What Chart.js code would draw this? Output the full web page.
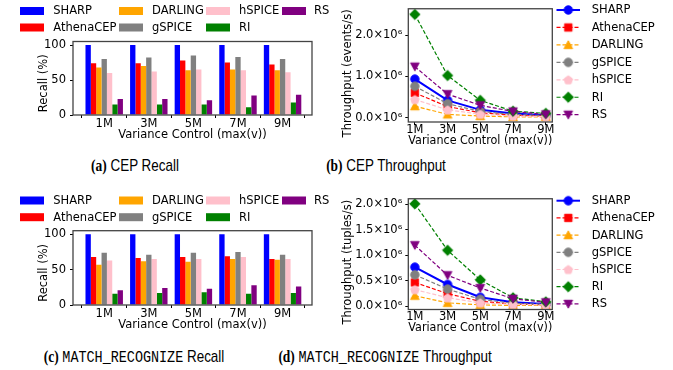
<!DOCTYPE html>
<html><head><meta charset="utf-8">
<script src="https://cdn.jsdelivr.net/npm/chart.js@4.4.0/dist/chart.umd.min.js"></script>
<style>
html,body{margin:0;padding:0;background:#fff;}
body{width:673px;height:370px;position:relative;overflow:hidden;}
canvas{position:absolute;}
.cap{position:absolute;white-space:nowrap;font-family:'Liberation Sans',sans-serif;font-size:17px;line-height:1;color:#000;transform:translate(-50%,-50%) scaleX(0.79);}
.cap b{font-family:'Liberation Serif',serif;font-weight:bold;}
.cap .mono{font-family:'Liberation Mono','DejaVu Sans Mono',monospace;font-size:17px;}
</style></head><body>
<canvas id="ca" width="336" height="148" style="left:0;top:0"></canvas>
<canvas id="cb" width="333" height="150" style="left:340px;top:0"></canvas>
<canvas id="cc" width="336" height="148" style="left:0;top:190px"></canvas>
<canvas id="cd" width="333" height="150" style="left:340px;top:190px"></canvas>
<div class="cap" style="left:134.5px;top:165px"><b>(a)</b> CEP Recall</div>
<div class="cap" style="left:385.5px;top:165px"><b>(b)</b> CEP Throughput</div>
<div class="cap" style="left:134px;top:357px"><b>(c)</b> <span class="mono">MATCH_RECOGNIZE</span> Recall</div>
<div class="cap" style="left:385px;top:357px"><b>(d)</b> <span class="mono">MATCH_RECOGNIZE</span> Throughput</div>
<script>
// ---------------- DATA ----------------
const series = ['SHARP','AthenaCEP','DARLING','gSPICE','hSPICE','RI','RS'];
const categories = ['1M','3M','5M','7M','9M'];
const xValues = [1,3,5,7,9];
const recallTicks = [0,50,100];
const throughputTicksCEP = [0,1000000,2000000];
const throughputTicksMR = [0,500000,1000000,1500000,2000000];

// (a) CEP recall (%)
const cepRecallSHARP     = [100,100,100,100,100];
const cepRecallAthenaCEP = [74,74,78,75,72];
const cepRecallDARLING   = [68,70,64,65,64];
const cepRecallGSPICE    = [80,82,85,83,80];
const cepRecallHSPICE    = [60,62,65,64,61];
const cepRecallRI        = [15,15,15,11,18];
const cepRecallRS        = [23,23,21,28,29];

// (c) MATCH_RECOGNIZE recall (%)
const mrRecallSHARP     = [100,100,100,100,100];
const mrRecallAthenaCEP = [68,66.5,68,69,65];
const mrRecallDARLING   = [57,62,61,65,64];
const mrRecallGSPICE    = [74,71,74,75,71];
const mrRecallHSPICE    = [63,65,65,68,65];
const mrRecallRI        = [16,17,18,16,17];
const mrRecallRS        = [21,24,23,28,26];

// (b) CEP throughput (events/s)
const cepTputSHARP     = [935000,420000,190000,100000,60000];
const cepTputAthenaCEP = [600000,270000,120000,60000,40000];
const cepTputDARLING   = [280000,80000,40000,20000,20000];
const cepTputGSPICE    = [760000,340000,150000,80000,50000];
const cepTputHSPICE    = [440000,190000,85000,40000,25000];
const cepTputRI        = [2500000,1020000,420000,157000,105000];
const cepTputRS        = [1235000,570000,300000,150000,80000];

// (d) MATCH_RECOGNIZE throughput (tuples/s)
const mrTputSHARP     = [770000,430000,180000,80000,50000];
const mrTputAthenaCEP = [470000,250000,100000,50000,30000];
const mrTputDARLING   = [210000,70000,30000,20000,20000];
const mrTputGSPICE    = [620000,340000,140000,60000,40000];
const mrTputHSPICE    = [330000,170000,70000,40000,30000];
const mrTputRI        = [2010000,1100000,520000,170000,90000];
const mrTputRS        = [1200000,610000,360000,150000,80000];

// ---------------- STYLES ----------------
const colors = ['#0000ff','#ff0000','#ffa500','#808080','#ffc0cb','#008000','#800080'];
const markers = ['circle','square','triUp','circle','pentagon','diamond','triDown'];
const lineWidths = [2,1.2,1.2,1.2,1.2,1.2,1.2];
const dashes = [[],[4,2],[4,2],[4,2],[4,2],[4,2],[4,2]];
const FONT = {family:"'DejaVu Sans'", size:11.5, lineHeight:1};
Chart.defaults.font.family = "'DejaVu Sans'";
Chart.defaults.color = '#000';

function markerCanvas(shape, color){
  const s = 14, m = 7;
  const c = document.createElement('canvas'); c.width = s; c.height = s;
  const g = c.getContext('2d');
  g.fillStyle = color; g.strokeStyle = color; g.lineWidth = 1;
  g.beginPath();
  if (shape === 'circle') g.arc(m, m, 4.2, 0, Math.PI*2);
  else if (shape === 'square') g.rect(m-3.7, m-3.7, 7.4, 7.4);
  else if (shape === 'triUp') { g.moveTo(m, m-4.2); g.lineTo(m+4.3, m+3.7); g.lineTo(m-4.3, m+3.7); g.closePath(); }
  else if (shape === 'triDown') { g.moveTo(m, m+4.2); g.lineTo(m+4.3, m-3.7); g.lineTo(m-4.3, m-3.7); g.closePath(); }
  else if (shape === 'diamond') { g.moveTo(m, m-5.2); g.lineTo(m+5.2, m); g.lineTo(m, m+5.2); g.lineTo(m-5.2, m); g.closePath(); }
  else if (shape === 'pentagon') {
    for (let k = 0; k < 5; k++) {
      const a = -Math.PI/2 + k*2*Math.PI/5;
      const px = m + 4.5*Math.cos(a), py = m + 0.4 + 4.5*Math.sin(a);
      if (k) g.lineTo(px, py); else g.moveTo(px, py);
    }
    g.closePath();
  }
  g.fill(); g.stroke();
  return c;
}
const markerImgs = series.map((s,i) => markerCanvas(markers[i], colors[i]));

// ---------------- PLUGINS ----------------
const framePlugin = {
  id: 'frame',
  afterDatasetsDraw(chart) {
    const a = chart.chartArea, ctx = chart.ctx;
    ctx.save();
    ctx.strokeStyle = '#444'; ctx.lineWidth = 1.3;
    ctx.strokeRect(a.left, a.top, a.right - a.left, a.bottom - a.top);
    ctx.restore();
  }
};
function yTitlePlugin(text, x, dy) {
  return {
    id: 'ytitle',
    afterDraw(chart) {
      const a = chart.chartArea, ctx = chart.ctx;
      ctx.save();
      ctx.translate(x, (a.top + a.bottom)/2 + dy);
      ctx.rotate(-Math.PI/2);
      ctx.font = FONT.size + "px 'DejaVu Sans'";
      ctx.fillStyle = '#000'; ctx.textAlign = 'center'; ctx.textBaseline = 'middle';
      ctx.fillText(text, 0, 0);
      ctx.restore();
    }
  };
}
function barLegendPlugin(rowY) {
  const patchX = [20,119,206,282], textX = [53.3,152,239,314];
  return {
    id: 'barlegend',
    afterDraw(chart) {
      const ctx = chart.ctx;
      ctx.save();
      ctx.font = FONT.size + "px 'DejaVu Sans'";
      ctx.textBaseline = 'middle'; ctx.textAlign = 'left';
      series.forEach((name, i) => {
        const col = Math.floor(i/2), row = i % 2;
        const y = rowY[row];
        ctx.fillStyle = colors[i];
        ctx.fillRect(patchX[col], y - 4, 24, 8);
        ctx.fillStyle = '#000';
        ctx.fillText(name, textX[col], y + 0.5);
      });
      ctx.restore();
    }
  };
}
function lineLegendPlugin(y0, dy) {
  return {
    id: 'linelegend',
    afterDraw(chart) {
      const ctx = chart.ctx;
      ctx.save();
      ctx.font = FONT.size + "px 'DejaVu Sans'";
      ctx.textBaseline = 'middle'; ctx.textAlign = 'left';
      series.forEach((name, i) => {
        const y = y0 + i*dy;
        ctx.strokeStyle = colors[i]; ctx.lineWidth = lineWidths[i];
        ctx.setLineDash(dashes[i]);
        ctx.beginPath(); ctx.moveTo(216.5, y); ctx.lineTo(240, y); ctx.stroke();
        ctx.setLineDash([]);
        const img = markerImgs[i];
        ctx.drawImage(img, 228.3 - img.width/2, y - img.height/2);
        ctx.fillStyle = '#000';
        ctx.fillText(name, 251.7, y + 0.5);
      });
      ctx.restore();
    }
  };
}

// ---------------- CHARTS ----------------
function makeBar(id, arrays, g) {
  new Chart(document.getElementById(id), {
    type: 'bar',
    data: {
      datasets: series.map((name, i) => ({
        label: name,
        data: categories.map((c, j) => ({x: j, y: arrays[i][j]})),
        backgroundColor: colors[i], borderWidth: 0,
        categoryPercentage: 0.84, barPercentage: 1
      }))
    },
    options: {
      responsive: false, animation: false,
      layout: {padding: {top: g.top, right: g.right, left: 0, bottom: 0}},
      plugins: {legend: {display: false}, tooltip: {enabled: false}},
      scales: {
        x: {
          type: 'linear', min: -0.7, max: 4.66, offset: false,
          grid: {drawOnChartArea: false, drawTicks: true, tickLength: 3, tickColor: '#000'},
          border: {display: false},
          afterBuildTicks: s => { s.ticks = categories.map((c, j) => ({value: j})); },
          ticks: {callback: v => categories[v], font: FONT, color: '#000', padding: 0, maxRotation: 0, autoSkip: false},
          title: {display: true, text: 'Variance Control (max(v))', font: FONT, color: '#000', padding: {top: 0, bottom: g.xtpb}},
          afterFit: s => { s.height = g.xh; }
        },
        y: {
          min: 0, max: 105,
          grid: {drawOnChartArea: false, drawTicks: true, tickLength: 3, tickColor: '#000'},
          border: {display: false},
          afterBuildTicks: s => { s.ticks = recallTicks.map(v => ({value: v})); },
          ticks: {font: FONT, color: '#000', padding: 4},
          afterFit: s => { s.width = 73; }
        }
      }
    },
    plugins: [framePlugin, yTitlePlugin('Recall (%)', 44, 5), barLegendPlugin(g.legendRows)]
  });
}

function makeLine(id, arrays, g) {
  new Chart(document.getElementById(id), {
    type: 'line',
    data: {
      datasets: series.map((name, i) => ({
        label: name,
        data: xValues.map((x, j) => ({x: x, y: arrays[i][j]})),
        borderColor: colors[i], backgroundColor: colors[i],
        borderWidth: lineWidths[i], borderDash: dashes[i],
        pointStyle: markerImgs[i], pointRadius: 4, pointHoverRadius: 4,
        tension: 0, fill: false, order: series.length - i
      }))
    },
    options: {
      responsive: false, animation: false,
      layout: {padding: {top: g.top, right: g.right, left: 0, bottom: 0}},
      plugins: {legend: {display: false}, tooltip: {enabled: false}},
      scales: {
        x: {
          type: 'linear', min: 0.6, max: 9.4, offset: false,
          grid: {drawOnChartArea: false, drawTicks: true, tickLength: 3, tickColor: '#000'},
          border: {display: false},
          afterBuildTicks: s => { s.ticks = xValues.map(v => ({value: v})); },
          ticks: {callback: (v) => categories[xValues.indexOf(v)], font: FONT, color: '#000', padding: -1, maxRotation: 0, autoSkip: false},
          title: {display: true, text: 'Variance Control (max(v))', font: FONT, color: '#000', padding: {top: 0, bottom: g.xtpb}},
          afterFit: s => { s.height = g.xh; }
        },
        y: {
          min: g.ymin, max: g.ymax,
          grid: {drawOnChartArea: false, drawTicks: true, tickLength: 3, tickColor: '#000'},
          border: {display: false},
          afterBuildTicks: s => { s.ticks = g.yticks.map(v => ({value: v})); },
          ticks: {font: FONT, color: '#000', padding: 3,
                  callback: v => (v/1e6).toFixed(1) + '\u00d710\u2076'},
          afterFit: s => { s.width = 68.3; }
        }
      }
    },
    plugins: [framePlugin, yTitlePlugin(g.ytitle, 8.3, 8), lineLegendPlugin(g.legY0, g.legDy)]
  });
}

makeBar('ca', [cepRecallSHARP, cepRecallAthenaCEP, cepRecallDARLING, cepRecallGSPICE, cepRecallHSPICE, cepRecallRI, cepRecallRS],
  {top: 41.5, right: 24, xh: 33, xtpb: 7.5, legendRows: [11, 27.5]});
makeBar('cc', [mrRecallSHARP, mrRecallAthenaCEP, mrRecallDARLING, mrRecallGSPICE, mrRecallHSPICE, mrRecallRI, mrRecallRS],
  {top: 40.7, right: 24, xh: 33, xtpb: 7.5, legendRows: [10.5, 27.2]});
makeLine('cb', [cepTputSHARP, cepTputAthenaCEP, cepTputDARLING, cepTputGSPICE, cepTputHSPICE, cepTputRI, cepTputRS],
  {top: 3.3, right: 120.7, xh: 28, xtpb: 3.25, ymin: -104000, ymax: 2637000, yticks: throughputTicksCEP,
   ytitle: 'Throughput (events/s)', legY0: 10, legDy: 17.45});
makeLine('cd', [mrTputSHARP, mrTputAthenaCEP, mrTputDARLING, mrTputGSPICE, mrTputHSPICE, mrTputRI, mrTputRS],
  {top: 4, right: 120.7, xh: 30.5, xtpb: 5.75, ymin: -60000, ymax: 2110000, yticks: throughputTicksMR,
   ytitle: 'Throughput (tuples/s)', legY0: 10.7, legDy: 17.2});
</script>
</body></html>
